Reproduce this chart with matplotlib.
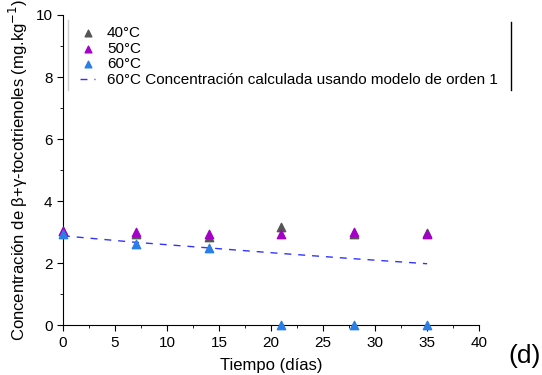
import matplotlib
matplotlib.use("Agg")
import matplotlib.pyplot as plt
from matplotlib.ticker import MultipleLocator
from matplotlib.lines import Line2D

plt.rcParams['font.family'] = ['Liberation Sans', 'DejaVu Sans']

dias = [0, 7, 14, 21, 28, 35]
c40 = [3.02, 2.95, 2.85, 3.15, 2.93, 2.97]
c50 = [3.05, 3.00, 2.93, 2.95, 3.00, 2.93]
c60 = [2.95, 2.60, 2.50, 0.00, 0.00, 0.00]
modelo60 = [2.88, 2.67, 2.49, 2.31, 2.14, 1.98]

fig = plt.figure(figsize=(5.42, 3.75), dpi=100)
ax = fig.add_axes([0.116, 0.133, 0.768, 0.827])

ax.scatter(dias, c40, marker='^', s=36, color='#555555', label='40°C', zorder=3, clip_on=False)
ax.scatter(dias, c50, marker='^', s=36, color='#a400c8', label='50°C', zorder=3, clip_on=False)
ax.scatter(dias, c60, marker='^', s=36, color='#2a7fe6', label='60°C', zorder=3, clip_on=False)
ax.plot(dias, modelo60, linestyle=(0, (5, 5)), color='#3333ff', lw=1,
        label='60°C Concentración calculada usando modelo de orden 1', zorder=2)

ax.set_xlim(0, 40)
ax.set_ylim(0, 10)
ax.xaxis.set_major_locator(MultipleLocator(5))
ax.xaxis.set_minor_locator(MultipleLocator(2.5))
ax.yaxis.set_major_locator(MultipleLocator(2))
ax.yaxis.set_minor_locator(MultipleLocator(1))
ax.tick_params(which='both', direction='out', labelsize=11)
ax.tick_params(which='major', length=4)
ax.tick_params(which='minor', length=2.5)
for s in ['top', 'right']:
    ax.spines[s].set_visible(False)

ax.set_xlabel('Tiempo (días)', fontsize=12, labelpad=6)
ax.set_ylabel('Concentración de β+γ-tocotrienoles (mg.kg$^{-1}$)', fontsize=12, labelpad=4)

leg = ax.legend(loc='upper left', bbox_to_anchor=(0.027, 0.985), frameon=False, fontsize=11,
                handlelength=1.0, handletextpad=0.75, labelspacing=0.12, borderaxespad=0.0,
                markerscale=0.8)

# legend box side lines as in the reference
fig.add_artist(Line2D([68/542, 68/542], [1-20/375, 1-90/375], color='#cccccc', lw=1))
fig.add_artist(Line2D([511/542, 511/542], [1-22/375, 1-90/375], color='black', lw=1))

fig.text(0.997, 0.02, '(d)', fontsize=19, ha='right', va='bottom')

fig.savefig('out.png', dpi=100)
